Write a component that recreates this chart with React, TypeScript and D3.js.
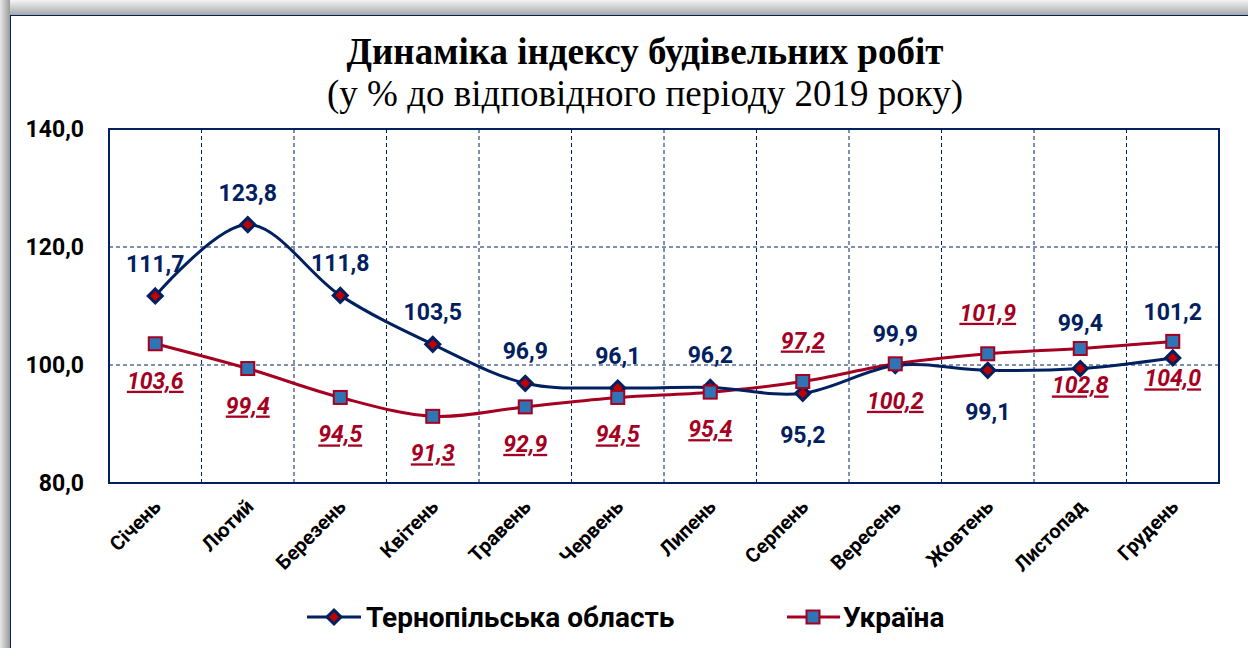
import React from "react";
import * as d3 from "d3";

// categories and series
const months = [
  "Січень", "Лютий", "Березень", "Квітень", "Травень", "Червень",
  "Липень", "Серпень", "Вересень", "Жовтень", "Листопад", "Грудень",
];
const ternopil = [111.7, 123.8, 111.8, 103.5, 96.9, 96.1, 96.2, 95.2, 99.9, 99.1, 99.4, 101.2];
const ukraine = [103.6, 99.4, 94.5, 91.3, 92.9, 94.5, 95.4, 97.2, 100.2, 101.9, 102.8, 104.0];
// where each data label sits relative to its point
const ternopilLabelPos = ["up", "up", "up", "up", "up", "up", "up", "down", "up", "down", "high", "high"];
const ukraineLabelPos = ["down", "down", "down", "down", "down", "down", "down", "up", "down", "up", "down", "down"];
const yTicks = [80, 100, 120, 140];

const seriesNames = ["Тернопільська область", "Україна"];

const NAVY = "#002060";
const CRIMSON = "#A50021";
const BLUE = "#2E75B6";
const RED = "#C00000";
const SANS = "Roboto, 'Noto Sans', sans-serif";
const SERIF = "'Liberation Serif', 'Times New Roman', serif";

const fmt = (v: number) => v.toFixed(1).replace(".", ",");

const ternOffset: Record<string, number> = { up: -24, high: -38, down: 50 };
const ukrOffset: Record<string, number> = { up: -33, down: 45 };

const Diamond = ({ x, y }: { x: number; y: number }) => (
  <path
    d={`M${x},${y - 7} L${x + 7},${y} L${x},${y + 7} L${x - 7},${y} Z`}
    fill={RED}
    stroke={NAVY}
    strokeWidth={3}
    strokeLinejoin="miter"
  />
);

const Square = ({ x, y }: { x: number; y: number }) => (
  <rect x={x - 6.5} y={y - 6.5} width={13} height={13} fill={BLUE} stroke={CRIMSON} strokeWidth={2} />
);

export default function App() {
  const width = 1248;
  const height = 648;
  const plot = { left: 109, right: 1219, top: 129, bottom: 483 };

  const x = d3
    .scaleBand<string>()
    .domain(months)
    .range([plot.left, plot.right]);
  const cx = (m: string) => (x(m) as number) + x.bandwidth() / 2;
  const y = d3.scaleLinear().domain([80, 140]).range([plot.bottom, plot.top]);

  const line = d3
    .line<number>()
    .x((_, i) => cx(months[i]))
    .y((d) => y(d))
    .curve(d3.curveCatmullRom.alpha(0));

  const vLines = months.slice(1).map((m) => x(m) as number);

  return (
    <svg
      width={width}
      height={height}
      style={{ position: "absolute", left: 0, top: 0 }}
    >
      <defs>
        <linearGradient id="shadowTop" x1="0" y1="0" x2="0" y2="1">
          <stop offset="0" stopColor="#f4f4f4" />
          <stop offset="1" stopColor="#a8a8a8" />
        </linearGradient>
        <linearGradient id="shadowLeft" x1="0" y1="0" x2="1" y2="0">
          <stop offset="0" stopColor="#e8e8e8" />
          <stop offset="1" stopColor="#9a9a9a" />
        </linearGradient>
      </defs>

      {/* frame with shadow */}
      <rect x={0} y={0} width={width} height={height} fill="#ffffff" />
      <rect x={0} y={0} width={width} height={15} fill="url(#shadowTop)" />
      <rect x={0} y={0} width={10} height={height} fill="url(#shadowLeft)" />
      <rect x={10.5} y={15.5} width={width} height={height} fill="#ffffff" stroke={NAVY} strokeWidth={1} />

      {/* title */}
      <text x={645} y={64} textAnchor="middle" fontFamily={SERIF} fontWeight={700} fontSize={37} fill="#000">
        Динаміка індексу будівельних робіт
      </text>
      <text x={645} y={106} textAnchor="middle" fontFamily={SERIF} fontSize={37} fill="#000">
        (у % до відповідного періоду 2019 року)
      </text>

      {/* grid */}
      {yTicks
        .filter((t) => t > 80 && t < 140)
        .map((t) => (
          <line key={t} x1={plot.left} x2={plot.right} y1={y(t)} y2={y(t)} stroke={NAVY} strokeWidth={1} strokeDasharray="4,3" />
        ))}
      {vLines.map((vx, i) => (
        <line key={i} x1={vx} x2={vx} y1={plot.top} y2={plot.bottom} stroke={NAVY} strokeWidth={1} strokeDasharray="4,3" />
      ))}
      <rect
        x={plot.left}
        y={plot.top}
        width={plot.right - plot.left}
        height={plot.bottom - plot.top}
        fill="none"
        stroke={NAVY}
        strokeWidth={2}
      />

      {/* y axis labels */}
      {yTicks.map((t) => (
        <text key={t} x={84} y={y(t) + 8} textAnchor="end" fontFamily={SANS} fontWeight={700} fontSize={23} fill="#000">
          {fmt(t)}
        </text>
      ))}

      {/* x axis labels */}
      {months.map((m) => (
        <text
          key={m}
          transform={`translate(${cx(m) + 7},${508}) rotate(-45)`}
          textAnchor="end"
          fontFamily={SANS}
          fontWeight={700}
          fontSize={20}
          fill="#000"
        >
          {m}
        </text>
      ))}

      {/* lines */}
      <path d={line(ukraine) || ""} fill="none" stroke={CRIMSON} strokeWidth={3} />
      <path d={line(ternopil) || ""} fill="none" stroke={NAVY} strokeWidth={3} />

      {/* markers */}
      {ternopil.map((v, i) => (
        <Diamond key={"t" + i} x={cx(months[i])} y={y(v)} />
      ))}
      {ukraine.map((v, i) => (
        <Square key={"u" + i} x={cx(months[i])} y={y(v)} />
      ))}

      {/* data labels */}
      {ternopil.map((v, i) => (
        <text
          key={"tl" + i}
          x={cx(months[i])}
          y={y(v) + ternOffset[ternopilLabelPos[i]]}
          textAnchor="middle"
          fontFamily={SANS}
          fontWeight={700}
          fontSize={23}
          fill={NAVY}
        >
          {fmt(v)}
        </text>
      ))}
      {ukraine.map((v, i) => (
        <text
          key={"ul" + i}
          x={cx(months[i])}
          y={y(v) + ukrOffset[ukraineLabelPos[i]]}
          textAnchor="middle"
          fontFamily={SANS}
          fontWeight={700}
          fontStyle="italic"
          textDecoration="underline"
          fontSize={23}
          fill={CRIMSON}
        >
          {fmt(v)}
        </text>
      ))}

      {/* legend */}
      <g>
        <line x1={307} x2={361} y1={617} y2={617} stroke={NAVY} strokeWidth={3} />
        <Diamond x={334} y={617} />
        <text x={366} y={627} fontFamily={SANS} fontWeight={700} fontSize={28} fill="#000">
          {seriesNames[0]}
        </text>
        <line x1={787} x2={840} y1={617} y2={617} stroke={CRIMSON} strokeWidth={3} />
        <Square x={813} y={617} />
        <text x={843} y={627} fontFamily={SANS} fontWeight={700} fontSize={28} fill="#000">
          {seriesNames[1]}
        </text>
      </g>
    </svg>
  );
}
